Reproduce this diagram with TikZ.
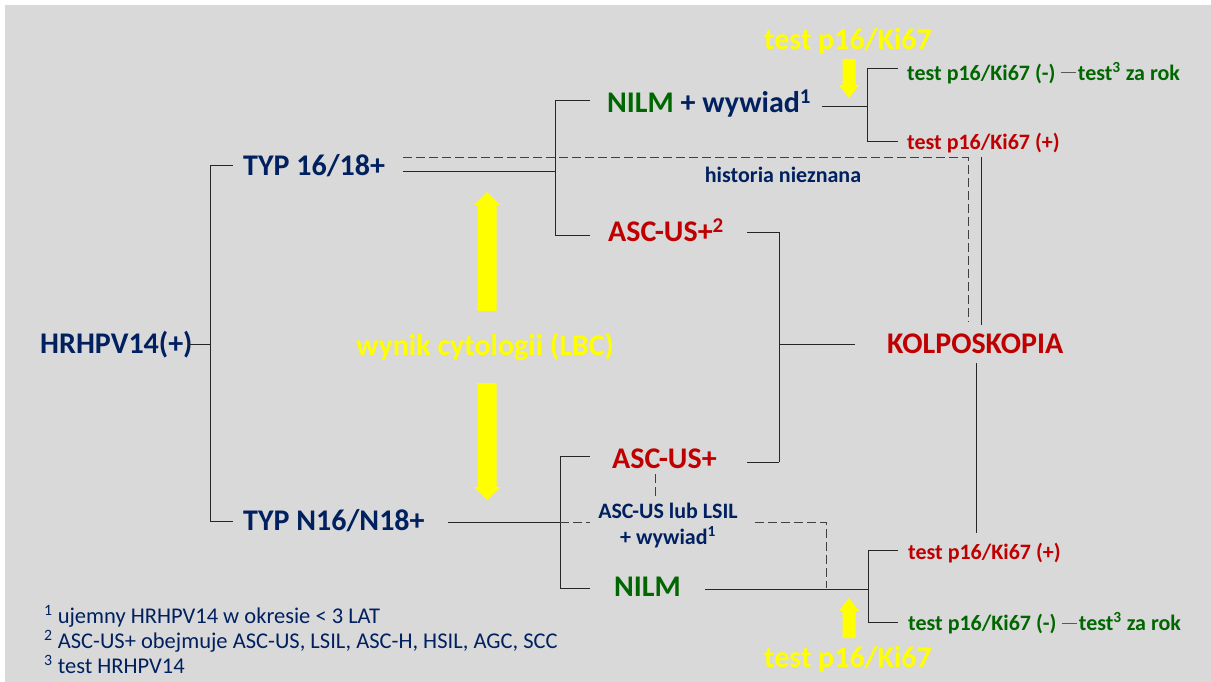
\documentclass[tikz,border=0pt]{standalone}
\usepackage{fontspec}
\setmainfont{Carlito}
\definecolor{dblue}{HTML}{002060}
\definecolor{dred}{HTML}{C00000}
\definecolor{dgreen}{HTML}{006600}
\definecolor{bg}{HTML}{D9D9D9}
\definecolor{yel}{HTML}{FFFF00}
\begin{document}
\begin{tikzpicture}[x=1pt,y=-1pt,
 txt/.style={inner sep=0pt, text height=19.3pt, text depth=0pt, font=\bfseries\fontsize{30}{36}\selectfont},
 sm/.style={inner sep=0pt, text height=14.2pt, text depth=0pt, font=\bfseries\fontsize{22}{26}\selectfont},
 fn/.style={inner sep=0pt, anchor=west, text height=14.5pt, text depth=0pt, font=\fontsize{22.5}{26}\selectfont, text=dblue},
 ln/.style={line width=1pt, black!85},
 dsh/.style={line width=1pt, black!75, dash pattern=on 9pt off 4pt}]
\fill[white] (0,0) rectangle (1211,682);
\fill[bg] (5,5) rectangle (1211,682);
\useasboundingbox (0,0) rectangle (1211,682);

% nodes
\node[txt, text=dblue, anchor=west] (hr) at (40,344) {HRHPV14(+)};
\node[txt, text=dblue, anchor=west] (typA) at (243,166) {TYP 16/18+};
\node[txt, text=dblue, anchor=west] (typB) at (243,521) {TYP N16/N18+};
\node[txt, anchor=west] (nilmA) at (607,103) {\textcolor{dgreen}{NILM} \textcolor{dblue}{+ wywiad\textsuperscript{1}}};
\node[txt, text=dred, anchor=west] (ascA) at (608,232) {ASC-US+\textsuperscript{2}};
\node[txt, text=yel] (cyt) at (485,346) {wynik cytologii (LBC)};
\node[txt, text=dred, anchor=west] (kolp) at (887,344) {KOLPOSKOPIA};
\node[txt, text=dred, anchor=west] (ascB) at (612,459) {ASC-US+};
\node[sm, text=dblue] (lsil) at (668,511) {ASC-US lub LSIL};
\node[sm, text=dblue] (lsilw) at (668,537) {+ wywiad\textsuperscript{1}};
\node[txt, text=dgreen, anchor=west] (nilmB) at (614,587) {NILM};
\node[sm, text=dblue] (hist) at (783,175) {historia nieznana};
\node[sm, text=dgreen, anchor=west] (negA) at (907,73) {test p16/Ki67 (-)};
\node[sm, text=dgreen, anchor=west] (rokA) at ([xshift=22pt]negA.east) {test\textsuperscript{3} za rok};
\node[sm, text=dred, anchor=west] (posA) at (907,142) {test p16/Ki67 (+)};
\node[sm, text=dred, anchor=west] (posB) at (908,552) {test p16/Ki67 (+)};
\node[sm, text=dgreen, anchor=west] (negB) at (908,623) {test p16/Ki67 (-)};
\node[sm, text=dgreen, anchor=west] (rokB) at ([xshift=22pt]negB.east) {test\textsuperscript{3} za rok};
\node[txt, text=yel] (ytA) at (848,40) {test p16/Ki67};
\node[txt, text=yel] (ytB) at (848,658) {test p16/Ki67};
\node[fn] (f1) at (44,616) {\textsuperscript{1} ujemny HRHPV14 w okresie < 3 LAT};
\node[fn] (f2) at (44,641) {\textsuperscript{2} ASC-US+ obejmuje ASC-US, LSIL, ASC-H, HSIL, AGC, SCC};
\node[fn] (f3) at (44,666) {\textsuperscript{3} test HRHPV14};

% HRHPV branching
\coordinate (jHR) at (210,344);
\coordinate (jA) at (210,166);
\coordinate (jB) at (210,521);
\draw[ln] (jA) -- (jB);
\draw[ln] ([xshift=-5pt]hr.east) -- (jHR);
\draw[ln] (jA) -- ([xshift=-10pt]typA.west);
\draw[ln] (jB) -- ([xshift=-10pt]typB.west);

% upper cytology branch
\coordinate (c1t) at (555,101);
\coordinate (c1b) at (555,235);
\coordinate (c1m) at (555,172);
\draw[ln] (c1t) -- (c1b);
\draw[ln] (c1t) -- ([xshift=-17pt]nilmA.west |- c1t);
\draw[ln] (c1b) -- ([xshift=-18pt]ascA.west |- c1b);
\draw[ln] ([xshift=18pt]typA.east |- c1m) -- (c1m);
\coordinate (dA1) at (968,158);
\coordinate (dA2) at (968,322);
\draw[dsh] ([xshift=18pt]typA.east |- dA1) -- (dA1) -- (dA2);
\coordinate (sA1) at (981,157);
\coordinate (sA2) at (981,325);
\draw[ln] (sA1) -- (sA2);

% NILM + wywiad -> p16
\coordinate (c2) at (867,107);
\coordinate (c2t) at (867,69);
\coordinate (c2b) at (867,142);
\draw[ln] ([xshift=11pt]nilmA.east |- c2) -- (c2);
\draw[ln] (c2t) -- (c2b);
\draw[ln] (c2t) -- ([xshift=-9pt]negA.west |- c2t);
\draw[ln] (c2b) -- ([xshift=-9pt]posA.west |- c2b);
\draw[ln, black!65] ([xshift=5pt]negA.east) -- ([xshift=-2pt]rokA.west);

% ASC-US+ -> kolposkopia
\coordinate (c3t) at (779,232);
\coordinate (c3b) at (779,462);
\coordinate (c3m) at (779,344);
\draw[ln] ([xshift=23pt]ascA.east |- c3t) -- (c3t);
\draw[ln] ([xshift=30pt]ascB.east |- c3b) -- (c3b);
\draw[ln] (c3t) -- (c3b);
\draw[ln] (c3m) -- ([xshift=-32pt]kolp.west);
\coordinate (k2) at (976,533);
\draw[ln] ([yshift=-9pt]kolp.south -| k2) -- (k2);

% lower cytology branch
\coordinate (c4t) at (560,456);
\coordinate (c4b) at (560,588);
\coordinate (c4m) at (560,522);
\draw[ln] (c4t) -- (c4b);
\draw[ln] (c4t) -- ([xshift=-22pt]ascB.west |- c4t);
\draw[ln] (c4b) -- ([xshift=-24pt]nilmB.west |- c4b);
\draw[ln] ([xshift=23pt]typB.east |- c4m) -- (c4m);
\draw[dsh] (c4m) -- ([xshift=-8pt]lsil.west |- c4m);
\coordinate (d1) at (655,474);
\coordinate (d2) at (655,498);
\draw[dsh] (d1) -- (d2);
\coordinate (d3) at (826,522);
\coordinate (d4) at (826,588);
\draw[dsh] ([xshift=17pt]lsil.east |- d3) -- (d3) -- (d4);

% NILM -> p16
\coordinate (c5) at (868,589);
\coordinate (c5t) at (868,550);
\coordinate (c5b) at (868,622);
\draw[ln] ([xshift=24pt]nilmB.east |- c5) -- (c5);
\draw[ln] (c5t) -- (c5b);
\draw[ln] (c5t) -- ([xshift=-10pt]posB.west |- c5t);
\draw[ln] (c5b) -- ([xshift=-10pt]negB.west |- c5b);
\draw[ln, black!65] ([xshift=5pt]negB.east) -- ([xshift=-2pt]rokB.west);

% yellow arrows
\fill[yel] (842.5,59) -- (855.5,59) -- (855.5,85) -- (859,85) -- (849,98) -- (839,85) -- (842.5,85) -- cycle;
\fill[yel] (842.5,638) -- (855.5,638) -- (855.5,611) -- (859,611) -- (849,598) -- (839,611) -- (842.5,611) -- cycle;
\fill[yel] (477.5,311) -- (496.5,311) -- (496.5,205) -- (500,205) -- (487,192) -- (474,205) -- (477.5,205) -- cycle;
\fill[yel] (477.5,383) -- (496.5,383) -- (496.5,487) -- (500,487) -- (487,500) -- (474,487) -- (477.5,487) -- cycle;
\end{tikzpicture}
\end{document}
